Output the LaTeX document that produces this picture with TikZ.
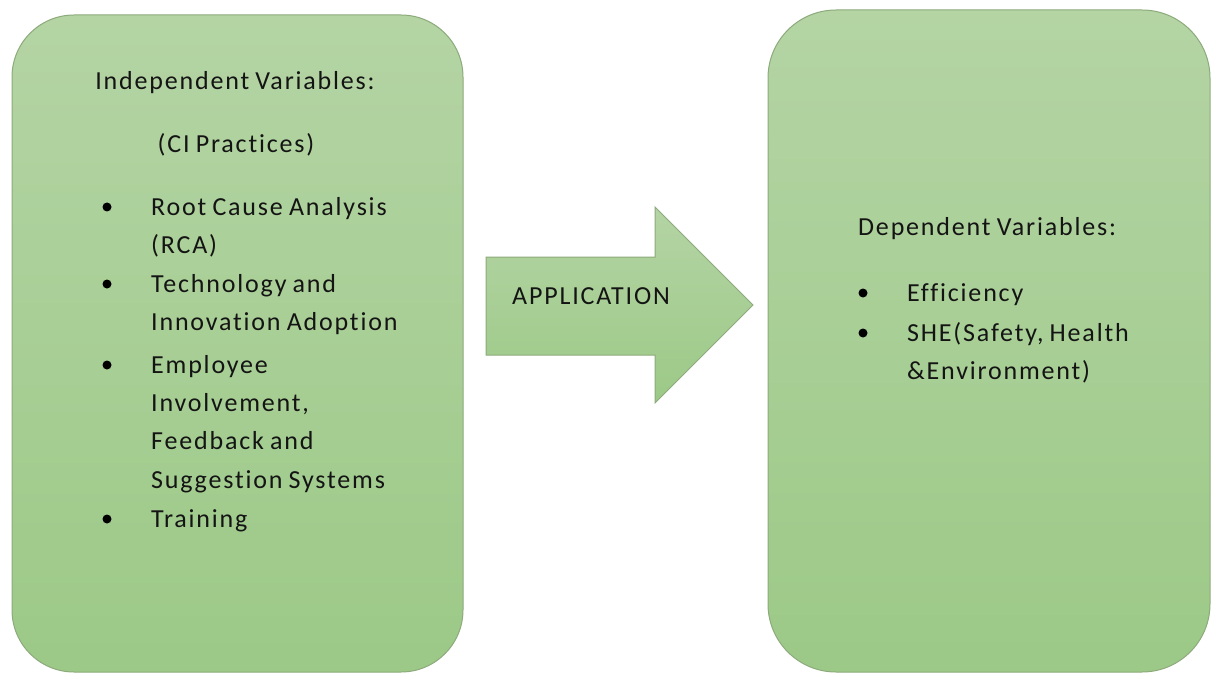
\documentclass[tikz,border=0pt]{standalone}
\usepackage{fontspec}
\setmainfont{Carlito}[LetterSpace=7, WordSpace=0.8, Ligatures=NoCommon]
\begin{document}
\begin{tikzpicture}[x=1pt,y=-1pt,
  panel/.style={draw=boxline, line width=1pt, rounded corners=62pt,
    top color=boxtop, bottom color=boxbot, shading angle=0},
  txt/.style={anchor=base west, inner sep=0pt, text=ink,
    font=\fontsize{26}{30}\selectfont},
  ctxt/.style={anchor=base, inner sep=0pt, text=ink,
    font=\fontsize{26}{30}\selectfont},
  dot/.style={circle, fill=black, inner sep=0pt, minimum size=9pt}]
\definecolor{boxtop}{HTML}{B4D4A4}
\definecolor{boxbot}{HTML}{9CC987}
\definecolor{boxline}{HTML}{8DAA7C}
\definecolor{ink}{HTML}{141414}
\useasboundingbox (0,0) rectangle (1211,674);
\fill[white] (0,0) rectangle (1211,674);

% left and right panels
\shade[panel] (12,15) rectangle (463,672);
\shade[panel, rounded corners=68pt] (768,10) rectangle (1210,672);
\node[inner sep=0pt] (leftbox) at (237.5,343.5) {};
\node[inner sep=0pt] (rightbox) at (989,341) {};

% block arrow between the panels
\shade[draw=boxline, line width=1pt, top color=boxtop, bottom color=boxbot]
  (486,257) -- (655,257) -- (655,207) -- (753,305) -- (655,403)
  -- (655,355) -- (486,355) -- cycle;
\node[txt] (app) at (512,304) {APPLICATION};

% independent variables
\node[ctxt] (indep) at (235,90) {Independent Variables:};
\node[ctxt] (ci) at (236,153) {(CI Practices)};
\node[dot] (b1) at (107,207) {};
\node[txt] (l1) at (151,215) {Root Cause Analysis};
\node[txt] (l2) at (151,253) {(RCA)};
\node[dot] (b2) at (107,284) {};
\node[txt] (l3) at (151,292) {Technology and};
\node[txt] (l4) at (151,330) {Innovation Adoption};
\node[dot] (b3) at (107,365) {};
\node[txt] (l5) at (151,373) {Employee};
\node[txt] (l6) at (151,411) {Involvement,};
\node[txt] (l7) at (151,449) {Feedback and};
\node[txt] (l8) at (151,488) {Suggestion Systems};
\node[dot] (b4) at (107,519) {};
\node[txt] (l9) at (151,527) {Training};

% dependent variables
\node[txt] (dep) at (858,236) {Dependent Variables:};
\node[dot] (d1) at (863,293) {};
\node[txt] (r1) at (907,301) {Efficiency};
\node[dot] (d2) at (863,333) {};
\node[txt] (r2) at (907,341) {SHE(Safety, Health};
\node[txt] (r3) at (907,379) {\&Environment)};
\end{tikzpicture}
\end{document}
